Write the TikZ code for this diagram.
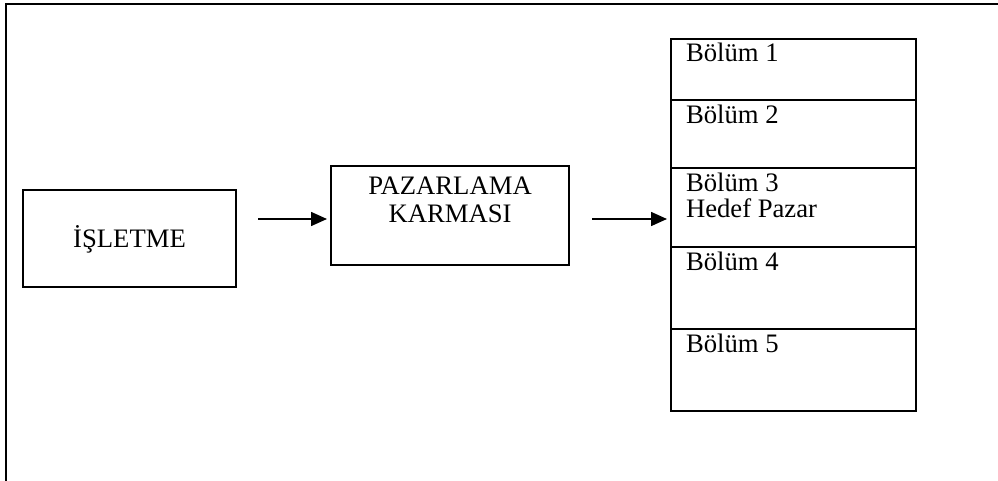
\documentclass[tikz,border=0pt]{standalone}
\usepackage{fontspec}
\setmainfont{Liberation Serif}
\usetikzlibrary{arrows.meta}
\begin{document}
\begin{tikzpicture}[x=0.75pt,y=-0.75pt,
  every node/.style={inner sep=0pt,outer sep=0pt},
  frameline/.style={line width=1.6pt},
  boxline/.style={draw,line width=1.6pt,rectangle,anchor=north west},
  label/.style={font=\fontsize{20}{21}\selectfont},
  flow/.style={line width=1.2pt,-{Triangle[length=12pt,width=10.5pt]},shorten >=3pt}]
\useasboundingbox (0,0) rectangle (998,481);

% outer frame (left and top sides only)
\draw[frameline] (6,481) -- (6,4) -- (998,4);

% company box
\node[boxline,minimum width=213*0.75pt,minimum height=97*0.75pt] (isl) at (23,190) {};
\node[label,anchor=base] (isltxt) at (129.5,247) {İŞLETME};

% marketing mix box (base anchor sits on the last line)
\node[boxline,minimum width=238*0.75pt,minimum height=99*0.75pt] (pz) at (331,166) {};
\node[anchor=base,align=center,font=\fontsize{20}{20.5}\selectfont] (pztxt) at (450,222)
  {PAZARLAMA\\KARMASI};

% market segments
\node[boxline,minimum width=245*0.75pt,minimum height=61*0.75pt] (s1) at (671,39) {};
\node[boxline,minimum width=245*0.75pt,minimum height=68*0.75pt] (s2) at (671,100) {};
\node[boxline,minimum width=245*0.75pt,minimum height=79*0.75pt] (s3) at (671,168) {};
\node[boxline,minimum width=245*0.75pt,minimum height=82*0.75pt] (s4) at (671,247) {};
\node[boxline,minimum width=245*0.75pt,minimum height=82*0.75pt] (s5) at (671,329) {};

\node[label,anchor=base west] (t1) at (686,62) {Bölüm 1};
\node[label,anchor=base west] (t2) at (686,123) {Bölüm 2};
\node[anchor=base west,align=left,font=\fontsize{20}{19.5}\selectfont] (t3) at (686,217)
  {Bölüm 3\\Hedef Pazar};
\node[label,anchor=base west] (t4) at (686,270) {Bölüm 4};
\node[label,anchor=base west] (t5) at (686,352) {Bölüm 5};

% arrows
\coordinate (a1) at (258,219);
\coordinate (a2) at (592,219);
\draw[flow] (a1) -- (a1 -| pz.west);
\draw[flow] (a2) -- (a2 -| s3.west);
\end{tikzpicture}
\end{document}
